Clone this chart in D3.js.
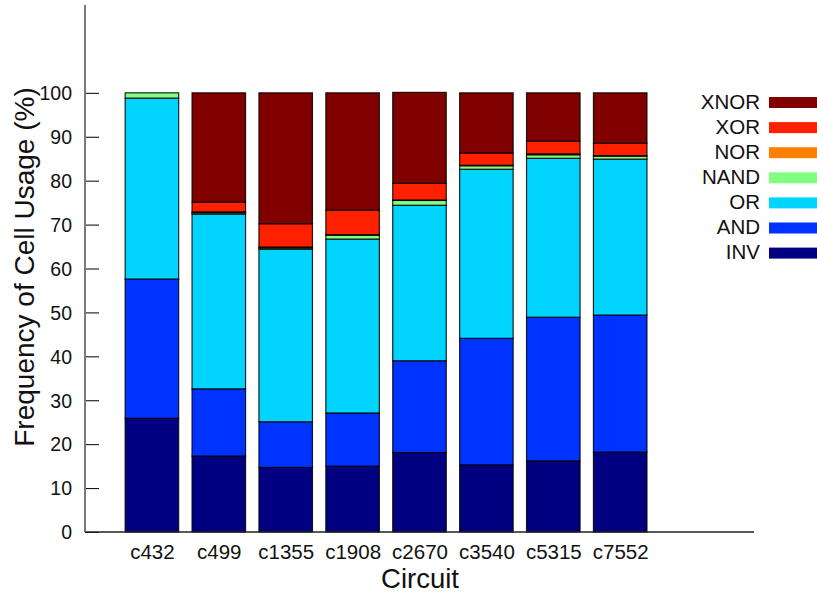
<!DOCTYPE html>
<html>
<head>
<meta charset="utf-8">
<script src="https://cdn.jsdelivr.net/npm/d3@7/dist/d3.min.js"></script>
<style>
  html, body { margin: 0; padding: 0; background: #fff; }
  svg { display: block; font-family: "Liberation Sans", Arial, sans-serif; }
</style>
</head>
<body>
<svg id="chart" width="817" height="593"></svg>
<script>
// Circuits on the x axis
const circuits = ["c432", "c499", "c1355", "c1908", "c2670", "c3540", "c5315", "c7552"];

// Cell types, stacked bottom to top
const cellTypes = ["INV", "AND", "OR", "NAND", "NOR", "XOR", "XNOR"];
const cellColors = ["#000080", "#0033ff", "#00d4ff", "#80ff80", "#ff8000", "#ff2000", "#800000"];

// Share of each cell type per circuit (%)
const inv  = [25.9, 17.3, 14.7, 15.0, 18.1, 15.3, 16.2, 18.2];
const and  = [31.7, 15.3, 10.4, 12.1, 20.9, 28.8, 32.7, 31.2];
const or   = [41.2, 39.8, 39.3, 39.6, 35.4, 38.5, 36.2, 35.5];
const nand = [1.2, 0.3, 0.3, 0.9, 1.1, 0.8, 0.8, 0.7];
const nor  = [0.0, 0.2, 0.2, 0.1, 0.1, 0.1, 0.2, 0.1];
const xor  = [0.0, 2.2, 5.3, 5.6, 3.8, 2.8, 2.9, 2.8];
const xnor = [0.0, 24.9, 29.8, 26.7, 20.7, 13.7, 11.0, 11.5];

const yTicks = [0, 10, 20, 30, 40, 50, 60, 70, 80, 90, 100];

const series = [inv, and, or, nand, nor, xor, xnor];
const rows = circuits.map((c, i) => {
  const r = { circuit: c, idx: i + 1 };
  cellTypes.forEach((t, k) => { r[t] = series[k][i]; });
  return r;
});

const svg = d3.select("#chart");
const plot = { left: 85, right: 754, top: 5, bottom: 532 };

// Axis positions run 0..10 with bars at 1..8
const x = d3.scaleLinear().domain([0, 10]).range([plot.left, plot.right]);
const y = d3.scaleLinear().domain([0, 120]).range([plot.bottom, plot.top]);
const barW = (x(1) - x(0)) * 0.8;

const stacked = d3.stack().keys(cellTypes)(rows);

const layers = svg.append("g")
  .selectAll("g")
  .data(stacked)
  .join("g")
  .attr("fill", (d, k) => cellColors[k]);

layers.selectAll("rect")
  .data(d => d.filter(p => p[1] - p[0] > 0))
  .join("rect")
  .attr("x", p => x(p.data.idx) - barW / 2)
  .attr("width", barW)
  .attr("y", p => y(p[1]))
  .attr("height", p => y(p[0]) - y(p[1]))
  .attr("stroke", "#000")
  .attr("stroke-opacity", 0.85)
  .attr("stroke-width", 1.2);

// Y axis: ticks point inward, labels on the left
const yAxis = svg.append("g").attr("transform", `translate(${plot.left},0)`)
  .call(d3.axisRight(y).tickValues(yTicks).tickSize(14).tickFormat(d3.format("d")));
yAxis.select(".domain").remove();
yAxis.selectAll(".tick line").attr("stroke", "#000").attr("stroke-width", 1);
yAxis.selectAll(".tick text")
  .attr("x", -13).attr("text-anchor", "end").attr("dy", "0.35em")
  .attr("font-size", 19.5).attr("fill", "#111");

svg.append("line")
  .attr("x1", plot.left).attr("x2", plot.left).attr("y1", plot.top).attr("y2", plot.bottom)
  .attr("stroke", "#7a7a7a").attr("stroke-width", 2);

// X axis
const xAxis = svg.append("g").attr("transform", `translate(0,${plot.bottom})`)
  .call(d3.axisBottom(x).tickValues(rows.map(r => r.idx)).tickSize(0)
    .tickFormat(d => circuits[d - 1]));
xAxis.select(".domain").remove();
xAxis.selectAll(".tick text").attr("dy", 0).attr("y", 27)
  .attr("font-size", 20.5).attr("fill", "#111");

svg.append("line")
  .attr("x1", plot.left).attr("x2", plot.right).attr("y1", plot.bottom).attr("y2", plot.bottom)
  .attr("stroke", "#222").attr("stroke-width", 1.5);

// Axis titles
svg.append("text")
  .attr("x", (plot.left + plot.right) / 2 + 0.5).attr("y", 588)
  .attr("text-anchor", "middle").attr("font-size", 27.5).attr("fill", "#111")
  .text("Circuit");

svg.append("text")
  .attr("transform", `translate(33.5,267) rotate(-90)`)
  .attr("text-anchor", "middle").attr("font-size", 28).attr("fill", "#111")
  .text("Frequency of Cell Usage (%)");

// Legend, top entry is the last stacked series
const legendTypes = cellTypes.slice().reverse();
const legend = svg.append("g");
legendTypes.forEach((t, i) => {
  const cy = 102.5 + i * 25.1;
  legend.append("rect")
    .attr("x", 769).attr("y", cy - 5.5).attr("width", 48).attr("height", 11)
    .attr("fill", cellColors[cellTypes.indexOf(t)]);
  legend.append("text")
    .attr("x", 760).attr("y", cy - 1).attr("dy", "0.35em")
    .attr("text-anchor", "end").attr("font-size", 20.5).attr("fill", "#111")
    .text(t);
});
</script>
</body>
</html>
